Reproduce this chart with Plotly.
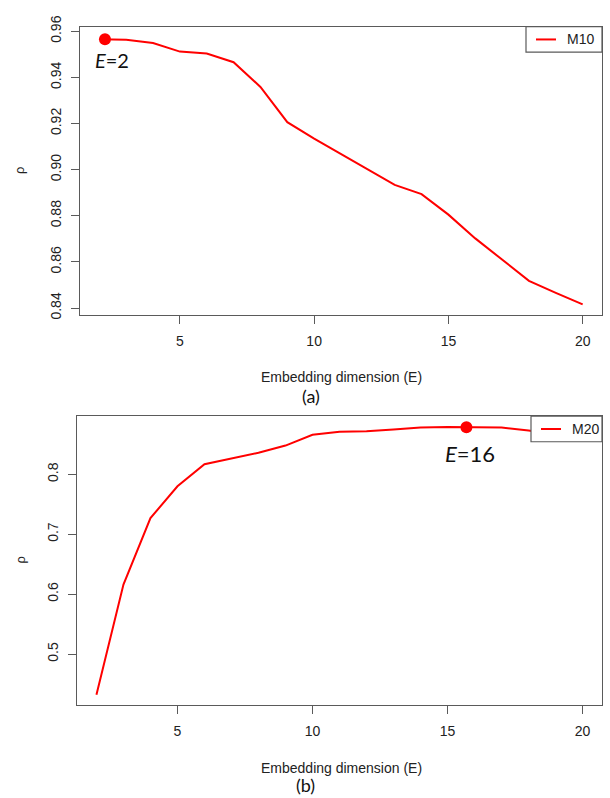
import plotly.graph_objects as go

# ---------------- data ----------------
E = list(range(2, 21))
m10 = [0.9566, 0.9563, 0.9549, 0.9512, 0.9504, 0.9466, 0.9359, 0.9206, 0.9135,
       0.9068, 0.9000, 0.8934, 0.8894, 0.8805, 0.8702, 0.8610, 0.8518, 0.8466, 0.8416]
m20 = [0.432, 0.616, 0.727, 0.780, 0.817, 0.826, 0.836, 0.848, 0.866,
       0.871, 0.872, 0.875, 0.878, 0.879, 0.879, 0.878, 0.873, 0.867, 0.860]
series_names = ["M10", "M20"]

best_a_x = [2.21]
best_a_y = [0.9566]
best_a_label = "<i>E</i>=2"
best_b_x = [15.7]
best_b_y = [0.8785]
best_b_label = "<i>E</i>=16"

x_ticks = [5, 10, 15, 20]
y_ticks_a = [0.84, 0.86, 0.88, 0.90, 0.92, 0.94, 0.96]
y_ticks_a_text = ["0.84", "0.86", "0.88", "0.90", "0.92", "0.94", "0.96"]
y_ticks_b = [0.5, 0.6, 0.7, 0.8]
y_ticks_b_text = ["0.5", "0.6", "0.7", "0.8"]

x_title = "Embedding dimension (E)"
y_title = "ρ"

W, H = 610, 798
RED = "#ff0000"
AX = "#5a5a5a"
TXT = "#222222"
TICKFONT = dict(family="Liberation Sans, Arial", size=14, color=TXT)

fig = go.Figure()

fig.add_trace(go.Scatter(x=E, y=m10, mode="lines", name=series_names[0],
                         line=dict(color=RED, width=2), showlegend=False,
                         xaxis="x", yaxis="y"))
fig.add_trace(go.Scatter(x=best_a_x, y=best_a_y, mode="markers", showlegend=False,
                         marker=dict(color=RED, size=12), xaxis="x", yaxis="y"))
fig.add_trace(go.Scatter(x=E, y=m20, mode="lines", name=series_names[1],
                         line=dict(color=RED, width=2), showlegend=False,
                         xaxis="x2", yaxis="y2"))
fig.add_trace(go.Scatter(x=best_b_x, y=best_b_y, mode="markers", showlegend=False,
                         marker=dict(color=RED, size=12), xaxis="x2", yaxis="y2"))

def px_x(p):
    return p / W

def px_y(p):
    return 1 - p / H

xa = dict(range=[1.28, 20.72], showgrid=False, zeroline=False, showline=True,
          linecolor=AX, linewidth=1.3, mirror=True, ticks="outside", ticklen=8,
          tickwidth=1.2, tickcolor=AX, tickvals=x_ticks, tickfont=TICKFONT,
          ticklabelstandoff=5)
ya = dict(showgrid=False, zeroline=False, showline=True, linecolor=AX,
          linewidth=1.3, mirror=True, ticks="outside", ticklen=8, tickwidth=1.2,
          tickcolor=AX, tickangle=-90, tickfont=TICKFONT, ticklabelstandoff=4)
fig.update_layout(
    width=W, height=H, margin=dict(l=0, r=0, t=0, b=0),
    paper_bgcolor="white", plot_bgcolor="white", showlegend=False,
    xaxis=dict(xa, domain=[px_x(80), px_x(602)], anchor="y"),
    yaxis=dict(ya, range=[0.8369, 0.9620], domain=[px_y(310), px_y(16)], anchor="x",
               tickvals=y_ticks_a, ticktext=y_ticks_a_text),
    xaxis2=dict(xa, domain=[px_x(77), px_x(602)], anchor="y2"),
    yaxis2=dict(ya, range=[0.4154, 0.897], domain=[px_y(707), px_y(413)], anchor="x2",
                tickvals=y_ticks_b, ticktext=y_ticks_b_text),
)

shapes = []
ann = []
# legend boxes (drawn in paper coordinates)
for name, (x0, x1, y0, y1) in zip(series_names, [(526, 602, 16, 42), (531, 602, 413, 439)]):
    shapes.append(dict(type="rect", xref="paper", yref="paper",
                       x0=px_x(x0), x1=px_x(x1), y0=px_y(y1), y1=px_y(y0),
                       fillcolor="white", line=dict(color=AX, width=1.2), layer="above"))
    ym = (y0 + y1) / 2
    shapes.append(dict(type="line", xref="paper", yref="paper",
                       x0=px_x(x0 + 10), x1=px_x(x0 + 30), y0=px_y(ym), y1=px_y(ym),
                       line=dict(color=RED, width=2), layer="above"))
    ann.append(dict(x=px_x(x0 + 39), y=px_y(ym), xref="paper", yref="paper", text=name,
                    showarrow=False, xanchor="left", yanchor="middle",
                    font=dict(family="Liberation Sans, Arial", size=14, color=TXT)))

ann.append(dict(x=2.49, y=0.9474, xref="x", yref="y", text=best_a_label, showarrow=False,
                xanchor="center", yanchor="middle",
                font=dict(family="Lato, Open Sans", size=20, color="#111")))
ann.append(dict(x=15.84, y=0.834, xref="x2", yref="y2", text=best_b_label, showarrow=False,
                xanchor="center", yanchor="middle",
                font=dict(family="Lato, Open Sans", size=22, color="#111")))
for cy in (373, 771):
    ann.append(dict(x=px_x(341), y=px_y(cy), xref="paper", yref="paper", text=x_title,
                    showarrow=False, xanchor="center", yanchor="middle",
                    font=dict(family="Liberation Sans, Arial", size=14, color=TXT)))
for cy in (163, 560):
    ann.append(dict(x=px_x(20), y=px_y(cy), xref="paper", yref="paper", text=y_title,
                    showarrow=False, textangle=-90, xanchor="center", yanchor="middle",
                    font=dict(family="Liberation Sans, Arial", size=13, color=TXT)))
ann.append(dict(x=px_x(311), y=px_y(392), xref="paper", yref="paper", text="(a)",
                showarrow=False, xanchor="center", yanchor="middle",
                font=dict(family="Lato, Open Sans", size=18, color="#111")))
ann.append(dict(x=px_x(305), y=px_y(789), xref="paper", yref="paper", text="(b)",
                showarrow=False, xanchor="center", yanchor="middle",
                font=dict(family="Lato, Open Sans", size=18, color="#111")))
fig.update_layout(annotations=ann, shapes=shapes)

fig.write_html("out.html")
